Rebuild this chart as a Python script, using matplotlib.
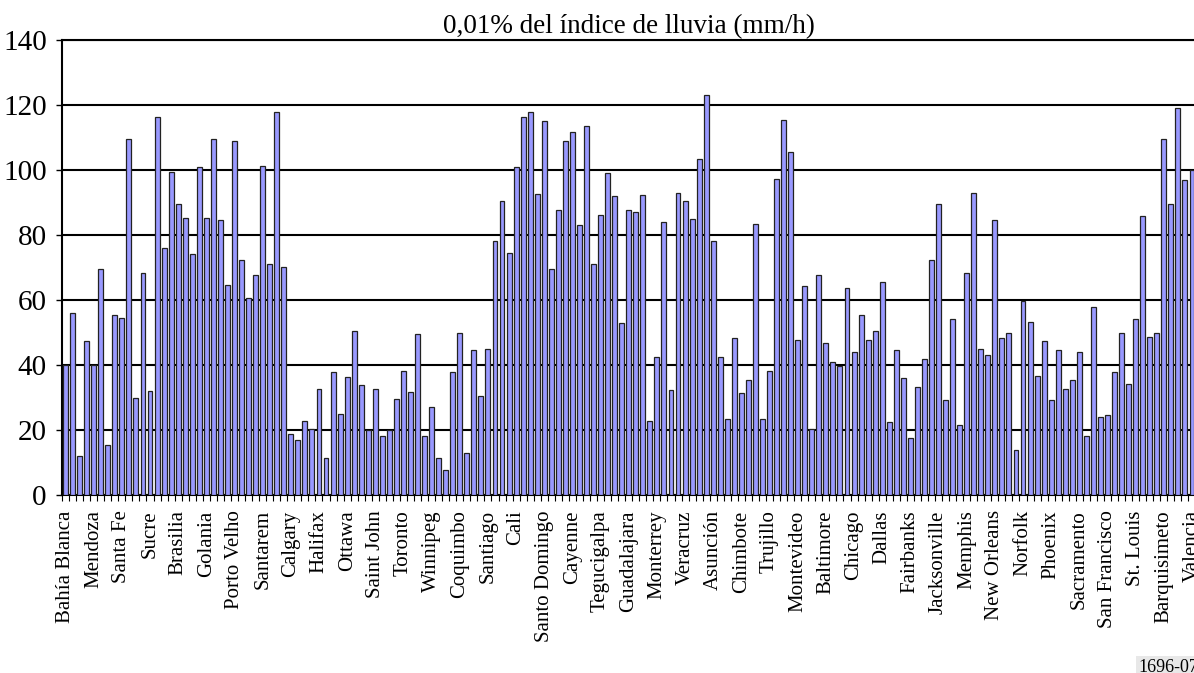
#!/usr/bin/env python

import numpy
import matplotlib
matplotlib.use("Agg")
import matplotlib.pyplot as plt

# one label every 4 bars
cities = ['Bahía Blanca', 'Mendoza', 'Santa Fe', 'Sucre', 'Brasilia', 'Golania',
          'Porto Velho', 'Santarem', 'Calgary', 'Halifax', 'Ottawa', 'Saint John',
          'Toronto', 'Winnipeg', 'Coquimbo', 'Santiago', 'Cali', 'Santo Domingo',
          'Cayenne', 'Tegucigalpa', 'Guadalajara', 'Monterrey', 'Veracruz',
          'Asunción', 'Chimbote', 'Trujillo', 'Montevideo', 'Baltimore', 'Chicago',
          'Dallas', 'Fairbanks', 'Jacksonville', 'Memphis', 'New Orleans',
          'Norfolk', 'Phoenix', 'Sacramento', 'San Francisco', 'St. Louis',
          'Barquisimeto', 'Valencia']

# 0.01% rain rate (mm/h), one value per bar
rain_rate = [40, 56, 12, 47.5, 40, 69.5, 15.5, 55.3, 54.5, 109.5,
             30, 68.2, 32, 116.3, 76, 99.5, 89.5, 85.3, 74.2, 101,
             85.3, 109.5, 84.5, 64.5, 109, 72.3, 60.5, 67.8, 101.3, 71,
             117.7, 70.3, 18.7, 17, 22.8, 20.4, 32.6, 11.5, 37.7, 25,
             36.4, 50.4, 34, 20, 32.6, 18.3, 20, 29.4, 38.2, 31.8,
             49.6, 18.3, 27.2, 11.3, 7.8, 37.7, 50, 12.8, 44.5, 30.5,
             45, 78.3, 90.5, 74.5, 101, 116.3, 118, 92.6, 115, 69.5,
             87.7, 109, 111.8, 83.1, 113.6, 71, 86.3, 99, 92, 52.8,
             87.6, 87, 92.2, 22.8, 42.6, 84, 32.2, 93, 90.4, 85,
             103.5, 123, 78.3, 42.4, 23.5, 48.2, 31.5, 35.3, 83.3, 23.5,
             38.2, 97.3, 115.4, 105.5, 47.6, 64.4, 20.3, 67.8, 46.7, 40.8,
             39.8, 63.6, 44, 55.4, 47.6, 50.4, 65.4, 22.4, 44.5, 36,
             17.6, 33.2, 41.7, 72.4, 89.6, 29.1, 54.2, 21.4, 68.3, 93,
             44.8, 43.1, 84.6, 48.3, 50, 13.8, 59.8, 53.1, 36.7, 47.3,
             29.1, 44.6, 32.6, 35.3, 44, 18.3, 57.7, 24.1, 24.5, 37.8,
             50, 34.1, 54.2, 86, 48.6, 50, 109.5, 89.6, 119.2, 96.8,
             100]

y_ticks = [0, 20, 40, 60, 80, 100, 120, 140]

plt.rcParams['font.family'] = ['Liberation Serif', 'DejaVu Serif']

fig = plt.figure(figsize=(11.94, 6.73), dpi=100)
# plot area runs a little past the right edge, as in the cropped original
ax = fig.add_axes([62 / 1194, 178 / 673, 1133.5 / 1194, 455 / 673])

n = len(rain_rate)
x = numpy.arange(n)
ax.bar(x, rain_rate, width=0.7, color='#9999ff', edgecolor='#222222',
       linewidth=0.9, zorder=3)

ax.set_xlim(-0.5, n - 0.5)
ax.set_ylim(0, 140)
ax.set_yticks(y_ticks)
ax.tick_params(axis='y', labelsize=21, length=4, width=1, pad=7)
ax.yaxis.grid(True, color='black', linewidth=1.5, zorder=1)
ax.set_axisbelow(True)

ax.set_xticks(x[::4])
ax.set_xticklabels(cities, rotation=90, fontsize=15)
ax.tick_params(axis='x', which='major', length=0, pad=11)
ax.set_xticks(numpy.arange(n + 1) - 0.5, minor=True)
ax.tick_params(axis='x', which='minor', length=4, width=0.8, direction='out')

for side in ['left', 'top', 'bottom']:
    ax.spines[side].set_linewidth(1.5)
ax.spines['right'].set_visible(False)

ax.set_title('0,01% del índice de lluvia (mm/h)', fontsize=19.5, pad=5)

fig.text(1138 / 1194, 6 / 673, '1696-07', fontsize=13, va='center', ha='left',
         bbox=dict(facecolor='#e8e8e8', edgecolor='none', pad=1.5))

plt.savefig('out.png', dpi=100)
